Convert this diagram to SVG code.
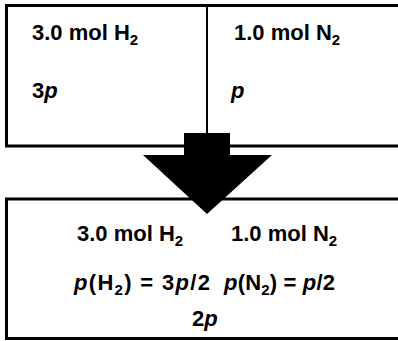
<svg xmlns="http://www.w3.org/2000/svg" width="398" height="341" viewBox="0 0 398 341">
<style>
.box{fill:#fff;stroke:#000;stroke-width:3}
.div{stroke:#000;stroke-width:2}
.t{font-family:"Liberation Sans",Arial,sans-serif;font-weight:bold;font-size:22px;fill:#000}
.s{font-size:15px}
.i{font-style:italic}
.arrow{fill:#000}
</style>
<g id="top-box">
<rect class="box" x="6.5" y="5.5" width="400" height="140.5"/>
<line class="div" x1="207" y1="5" x2="207" y2="146"/>
</g>
<g id="h2-compartment">
<text class="t" x="32" y="40">3.0 mol H<tspan class="s" dy="5">2</tspan></text>
<text class="t" x="32" y="98"><tspan>3</tspan><tspan class="i">p</tspan></text>
</g>
<g id="n2-compartment">
<text class="t" x="234" y="40">1.0 mol N<tspan class="s" dy="5">2</tspan></text>
<text class="t i" x="231" y="98">p</text>
</g>
<g id="bottom-box">
<rect class="box" x="6.5" y="199" width="400" height="139.5"/>
<text class="t" x="77" y="241">3.0 mol H<tspan class="s" dy="5">2</tspan></text>
<text class="t" x="231" y="241">1.0 mol N<tspan class="s" dy="5">2</tspan></text>
<text class="t" x="74" y="290" textLength="136" lengthAdjust="spacing"><tspan class="i">p</tspan>(H<tspan class="s" dy="5">2</tspan><tspan dy="-5">) = 3</tspan><tspan class="i">p</tspan>/2</text>
<text class="t" x="224" y="290" textLength="111" lengthAdjust="spacing"><tspan class="i">p</tspan>(N<tspan class="s" dy="5">2</tspan><tspan dy="-5">) = </tspan><tspan class="i">p</tspan>/2</text>
<text class="t" x="192" y="326"><tspan>2</tspan><tspan class="i">p</tspan></text>
</g>
<g id="connectors">
<polygon class="arrow" points="184,133 230,133 230,155 272,155 207,214 143,155 184,155"/>
</g>
</svg>
